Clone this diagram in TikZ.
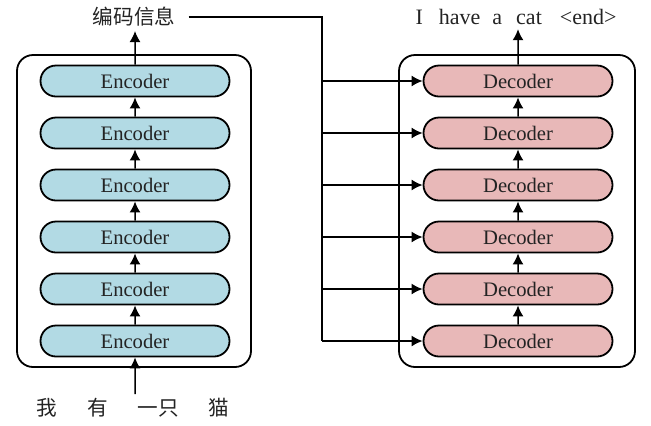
\documentclass[tikz,border=0pt]{standalone}
\usepackage{fontspec}
\setmainfont{Liberation Serif}
\newfontfamily\cjk{Noto Sans CJK SC}
\usetikzlibrary{shapes.misc,arrows.meta}
\definecolor{encblue}{RGB}{178,218,228}
\definecolor{decred}{RGB}{232,184,184}
\definecolor{inkgray}{RGB}{35,35,35}
\tikzstyle{block}=[draw, rounded rectangle, line width=0.9pt, minimum width=94.5pt, minimum height=15.5pt, inner sep=0, text=inkgray, font=\fontsize{10.3}{12}\selectfont]
\tikzstyle{encoder}=[block, fill=encblue]
\tikzstyle{decoder}=[block, fill=decred]
\tikzstyle{stack}=[draw, line width=0.9pt, rounded corners=8pt]
\tikzstyle{word}=[inner sep=2pt, text=inkgray]
\tikzstyle{flow}=[line width=0.75pt, -{Latex[length=5.5pt,width=5.5pt]}]

\begin{document}
\begin{tikzpicture}[x=0.5pt, y=-0.5pt]
    \useasboundingbox (0,0) rectangle (651,425);
    % the two stacks
    \draw[stack] (17,55) rectangle (251,367);
    \draw[stack] (399,55) rectangle (635,367);
    \foreach \i in {1,...,6} {
        \node[encoder] (enc\i) at (135, 393-52*\i) {Encoder};
        \node[decoder] (dec\i) at (518, 393-52*\i) {Decoder};
    }
    \foreach \i/\j in {1/2,2/3,3/4,4/5,5/6} {
        \draw[flow] (enc\i) -- (enc\j);
        \draw[flow] (dec\i) -- (dec\j);
    }
    % inputs and outputs
    \node[word, font=\cjk\fontsize{10.3}{12}\selectfont] (src) at (133,408) {我\hspace{15pt}有\hspace{15pt}一只\hspace{15pt}猫};
    \node[word, inner xsep=6.5pt, font=\cjk\fontsize{10.3}{12}\selectfont] (memory) at (134,17) {编码信息};
    \node[word, font=\fontsize{11}{13}\selectfont] (tgt) at (516,17) {I\hspace{8pt}have\hspace{6pt}a\hspace{7pt}cat\hspace{9pt}<end>};
    \draw[flow] (src.north -| enc1) -- (enc1);
    \draw[flow] (enc6) -- (enc6 |- memory.south);
    \draw[flow] (dec6) -- (dec6 |- tgt.south);
    % encoder output fed to every decoder
    \coordinate (bus) at (322,17);
    \draw[line width=0.75pt] (memory.east) -- (bus) -- (bus |- dec1);
    \foreach \i in {1,...,6} {
        \draw[flow] (bus |- dec\i) -- (dec\i.west);
    }
\end{tikzpicture}
\end{document}
